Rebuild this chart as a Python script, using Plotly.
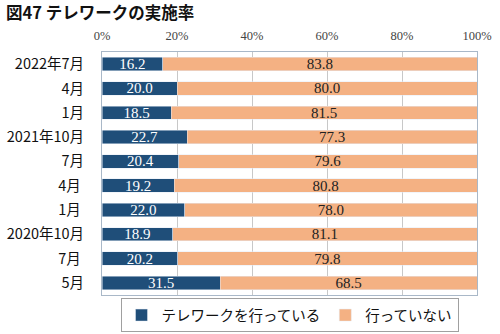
import plotly.graph_objects as go

# Survey waves, top to bottom
periods = ["2022年7月", "4月", "1月", "2021年10月", "7月", "4月 ", "1月 ",
           "2020年10月", "7月 ", "5月"]
doing = [16.2, 20.0, 18.5, 22.7, 20.4, 19.2, 22.0, 18.9, 20.2, 31.5]
not_doing = [83.8, 80.0, 81.5, 77.3, 79.6, 80.8, 78.0, 81.1, 79.8, 68.5]
x_ticks = [0, 20, 40, 60, 80, 100]
x_tick_text = ["0%", "20%", "40%", "60%", "80%", "100%"]

serif = "Liberation Serif, DejaVu Serif, serif"
gothic = "Noto Sans CJK JP, Noto Sans, sans-serif"

fig = go.Figure()
fig.add_trace(go.Bar(
    y=periods, x=doing, orientation="h", name="テレワークを行っている",
    marker=dict(color="#1F4E79"),
    text=[f"{v:.1f}" for v in doing], textposition="inside",
    insidetextanchor="middle", constraintext="none",
    textfont=dict(family=serif, size=15, color="white"),
))
fig.add_trace(go.Bar(
    y=periods, x=not_doing, orientation="h", name="行っていない",
    marker=dict(color="#F4B183"),
    text=[f"{v:.1f}" for v in not_doing], textposition="inside",
    insidetextanchor="middle", constraintext="none",
    textfont=dict(family=serif, size=15, color="#222222"),
))

fig.update_layout(
    width=500, height=334,
    barmode="stack", bargap=0.45,
    margin=dict(l=102, r=23, t=52, b=39, autoexpand=False),
    paper_bgcolor="white", plot_bgcolor="white",
    title=dict(text="<b>図47 テレワークの実施率</b>", x=0.012, xanchor="left",
               y=0.96, yanchor="middle", automargin=False,
               font=dict(family=gothic, size=16.5, color="#111111")),
    xaxis=dict(
        side="top", range=[0, 100], tickvals=x_ticks, ticktext=x_tick_text,
        showgrid=True, gridcolor="#C8C8C8", gridwidth=1,
        ticks="", showline=True, linecolor="#A9B8C8", mirror=True,
        tickfont=dict(family=serif, size=12.5, color="#444444"),
        ticklabelstandoff=6, zeroline=False, fixedrange=True,
        automargin=False,
    ),
    yaxis=dict(
        autorange="reversed", showline=True, linecolor="#A9B8C8", mirror=True,
        ticks="", tickfont=dict(family=gothic, size=14.5, color="#111111"),
        ticklabelstandoff=14, fixedrange=True, automargin=False,
    ),
    legend=dict(
        orientation="h", x=0.5, xanchor="center", y=-0.013, yanchor="top",
        bordercolor="#A0A0A0", borderwidth=1,
        font=dict(family=gothic, size=14.5, color="#111111"),
        itemwidth=30, traceorder="normal",
    ),
    showlegend=True,
)

fig.write_html("out.html")
